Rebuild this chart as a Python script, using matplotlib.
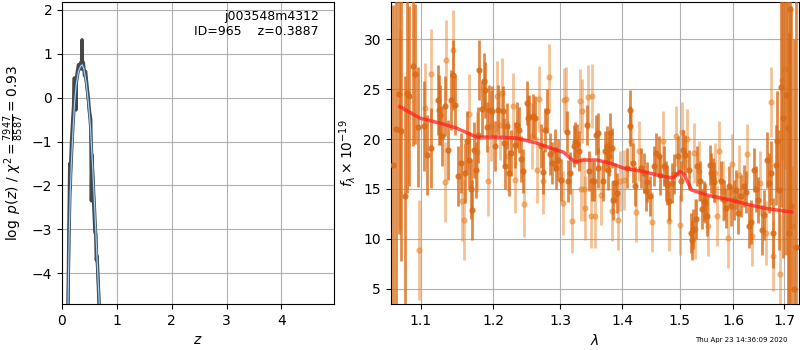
import matplotlib
matplotlib.use('Agg')
import matplotlib.pyplot as plt
from matplotlib.ticker import FixedLocator, FixedFormatter, NullLocator

# p(z) panel
z_smooth = [0.11, 0.13, 0.15, 0.17, 0.20, 0.23, 0.26, 0.30, 0.34, 0.37, 0.40,
            0.44, 0.48, 0.52, 0.56, 0.60, 0.64, 0.68]
logp_smooth = [-4.7, -3.2, -2.2, -1.5, -0.75, -0.1, 0.3, 0.6, 0.72, 0.75, 0.65,
               0.35, -0.1, -0.7, -1.6, -2.6, -3.7, -4.7]
z_noisy = [0.11, 0.125, 0.135, 0.14, 0.145, 0.155, 0.17, 0.19, 0.21, 0.225, 0.23,
           0.245, 0.255, 0.26, 0.28, 0.30, 0.32, 0.34, 0.355, 0.365, 0.375, 0.39,
           0.41, 0.43, 0.45, 0.48, 0.50, 0.525, 0.535, 0.545, 0.56, 0.58, 0.60,
           0.615, 0.625, 0.64, 0.66, 0.675]
logp_noisy = [-4.7, -3.0, -2.1, -1.5, -2.05, -1.6, -1.1, -0.6, -0.2, 0.45, 0.0,
              0.3, -0.28, 0.4, 0.6, 0.75, 0.7, 0.8, 0.65, 1.32, 0.7, 0.8,
              0.5, 0.6, 0.35, 0.0, -0.3, -0.5, -2.35, -1.3, -1.8, -2.5, -3.07,
              -3.1, -3.7, -3.6, -4.2, -4.7]

# spectrum panel, first grism (dark)
dark_wave = [1.064, 1.068, 1.071, 1.074, 1.0794, 1.0815, 1.084, 1.0894, 1.0927, 1.096,
             1.104, 1.108, 1.113, 1.1228, 1.124, 1.126, 1.128, 1.133, 1.136, 1.1408,
             1.143, 1.146, 1.1508, 1.154, 1.160, 1.162, 1.165, 1.168, 1.170, 1.172,
             1.1752, 1.178, 1.180, 1.183, 1.186, 1.188, 1.1911, 1.194, 1.1975, 1.2025,
             1.207, 1.214, 1.216, 1.217, 1.219, 1.222, 1.225, 1.231, 1.235, 1.237,
             1.241, 1.244, 1.249, 1.251, 1.253, 1.259, 1.262, 1.270, 1.273, 1.277,
             1.280, 1.284, 1.288, 1.292, 1.294, 1.297, 1.302, 1.310, 1.313, 1.315,
             1.321, 1.324, 1.326, 1.329, 1.343, 1.346, 1.350, 1.353, 1.357, 1.360,
             1.361, 1.369, 1.372, 1.375, 1.376, 1.378, 1.380, 1.383, 1.385, 1.388,
             1.391, 1.408, 1.413, 1.4135, 1.419, 1.422, 1.433, 1.437, 1.440, 1.443,
             1.447, 1.455, 1.459, 1.464, 1.466, 1.472, 1.475, 1.478, 1.482, 1.487,
             1.490, 1.498, 1.502, 1.506, 1.510, 1.517, 1.521, 1.523, 1.525, 1.530,
             1.532, 1.538, 1.541, 1.544, 1.547, 1.550, 1.555, 1.557, 1.561, 1.563,
             1.577, 1.583, 1.586, 1.592, 1.595, 1.601, 1.605, 1.608, 1.614, 1.621,
             1.624, 1.631, 1.634, 1.640, 1.644, 1.647, 1.656, 1.660, 1.666, 1.669,
             1.674, 1.677, 1.683, 1.686, 1.689, 1.693, 1.699, 1.705, 1.709, 1.711,
             1.713, 1.715, 1.720, 1.724]
dark_flux = [17.4, 21.0, 24.5, 20.8, 14.3, 24.6, 24.3, 27.3, 26.5, 21.2,
             21.3, 18.4, 19.1, 23.9, 22.9, 22.4, 20.3, 23.3, 18.9, 23.9,
             26.4, 23.4, 16.3, 17.6, 16.6, 19.8, 17.9, 15.0, 12.9, 18.9,
             16.9, 20.4, 26.9, 23.0, 25.8, 24.9, 21.2, 22.9, 22.8, 19.3,
             22.9, 22.8, 19.6, 17.3, 21.3, 16.6, 18.6, 19.4, 21.4, 20.9,
             18.0, 16.8, 23.6, 22.1, 22.2, 22.3, 22.1, 19.3, 16.7, 20.9,
             22.8, 18.5, 17.6, 18.9, 17.1, 17.9, 15.9, 20.7, 15.8, 16.6,
             19.3, 19.7, 19.5, 18.8, 21.4, 16.8, 15.8, 15.8, 20.4, 20.6,
             17.1, 15.8, 18.8, 19.3, 16.9, 18.3, 20.6, 19.1, 13.9, 15.6,
             14.6, 17.1, 22.9, 21.3, 17.6, 15.3, 17.1, 16.6, 14.8, 15.7,
             14.3, 17.3, 18.6, 18.3, 16.4, 17.3, 15.8, 15.4, 13.8, 15.6,
             16.5, 18.3, 15.8, 18.9, 18.4, 16.9, 10.6, 9.9, 11.0, 12.0,
             17.3, 15.8, 13.0, 13.8, 13.6, 12.3, 17.4, 16.6, 16.1, 15.7,
             15.8, 13.9, 13.1, 15.3, 13.3, 13.9, 14.9, 12.6, 14.3, 15.3,
             14.7, 11.3, 11.7, 16.9, 15.0, 13.9, 10.9, 12.4, 17.9, 15.6,
             16.6, 10.6, 17.4, 19.8, 14.9, 25.2, 22.1, 24.4, 21.1, 10.6,
             33.0, 13.3, 5.0, 9.2]
dark_err = [16, 18, 14, 13, 12, 10, 9, 8, 7, 6,
            4.5, 4, 4, 3.5, 3.5, 3, 3, 3, 3, 3,
            3.5, 3, 3, 3, 3, 3, 2.8, 3, 3, 2.8,
            2.8, 2.8, 3, 2.8, 2.8, 2.8, 2.5, 2.5, 2.5, 2.5,
            2.5, 2.5, 2.5, 2.3, 2.3, 2.3, 2.3, 2.3, 2.3, 2.3,
            2.3, 2.2, 2.2, 2.2, 2.2, 2.2, 2.2, 2.2, 2.2, 2.2,
            2.2, 2.1, 2.1, 2.1, 2.1, 2.1, 2.1, 2.1, 2.1, 2.1,
            2.1, 2.0, 2.0, 2.0, 2.0, 2.0, 2.0, 2.0, 2.0, 2.0,
            2.0, 2.0, 2.0, 2.0, 2.0, 2.0, 2.0, 2.0, 2.0, 2.0,
            2.0, 2.0, 2.0, 2.0, 2.0, 2.0, 2.0, 2.0, 2.0, 2.0,
            2.0, 2.0, 2.0, 2.0, 2.0, 2.0, 2.0, 2.0, 2.0, 2.0,
            2.0, 2.0, 2.0, 2.0, 2.0, 2.0, 2.0, 2.0, 2.0, 2.0,
            2.0, 2.0, 2.0, 2.0, 2.0, 2.0, 2.0, 2.0, 2.0, 2.0,
            2.0, 2.0, 2.0, 2.0, 2.0, 2.0, 2.0, 2.1, 2.1, 2.1,
            2.1, 2.2, 2.2, 2.2, 2.3, 2.3, 2.5, 2.5, 2.8, 3.0,
            3.2, 3.5, 4, 5, 6, 12, 14, 16, 18, 20,
            22, 20, 25, 25]

# second grism (light)
light_wave = [1.0735, 1.0974, 1.1061, 1.1129, 1.1319, 1.134, 1.143, 1.156, 1.1582, 1.166,
              1.177, 1.192, 1.196, 1.205, 1.210, 1.212, 1.221, 1.229, 1.232, 1.245,
              1.257, 1.264, 1.268, 1.274, 1.282, 1.305, 1.306, 1.309, 1.318, 1.331,
              1.333, 1.335, 1.338, 1.340, 1.344, 1.349, 1.350, 1.355, 1.366, 1.384,
              1.394, 1.396, 1.404, 1.416, 1.424, 1.428, 1.452, 1.471, 1.481, 1.494,
              1.500, 1.505, 1.513, 1.527, 1.528, 1.535, 1.552, 1.565, 1.569, 1.573,
              1.580, 1.589, 1.598, 1.611, 1.627, 1.637, 1.652, 1.663, 1.673, 1.678,
              1.691, 1.695, 1.702, 1.717]
light_flux = [20.9, 8.9, 23.1, 26.5, 15.7, 27.9, 28.9, 13.8, 11.9, 22.5,
              18.7, 15.8, 21.3, 24.3, 21.4, 24.6, 18.3, 23.3, 15.9, 13.5,
              20.3, 16.9, 24.0, 15.8, 26.2, 13.6, 23.9, 24.0, 11.8, 23.8,
              15.0, 22.8, 15.0, 13.1, 24.2, 12.3, 24.3, 12.3, 14.4, 12.8,
              11.9, 15.8, 15.9, 19.8, 12.7, 18.8, 11.7, 19.8, 11.8, 20.3,
              11.4, 20.7, 20.0, 18.6, 11.0, 16.8, 11.3, 16.6, 12.3, 18.8,
              14.8, 10.1, 17.5, 16.4, 18.5, 10.3, 15.6, 10.6, 23.7, 8.3,
              6.5, 25.9, 27.0, 11.3]
light_err = [10, 5, 4.5, 4.5, 4, 4, 4, 4, 4, 4,
             4, 3.5, 3.5, 3.5, 3.5, 3.5, 3.5, 3.3, 3.3, 3.3,
             3.3, 3.3, 3.3, 3.3, 3.3, 3.2, 3.2, 3.2, 3.2, 3.2,
             3.2, 3.2, 3.2, 3.2, 3.2, 3.2, 3.2, 3.2, 3.0, 3.0,
             3.0, 3.0, 3.0, 3.0, 3.0, 3.0, 3.0, 3.0, 3.0, 3.0,
             3.0, 3.0, 3.0, 3.0, 3.0, 3.0, 3.0, 3.0, 3.0, 3.0,
             3.0, 3.0, 3.0, 3.0, 3.0, 3.0, 3.2, 3.2, 3.5, 3.5,
             6, 8, 10, 6]

# best-fit model
model_wave = [1.0726, 1.0988, 1.1254, 1.148, 1.1761, 1.2046, 1.2338, 1.2637, 1.2945,
              1.3048, 1.3232, 1.3364, 1.3581, 1.3800, 1.4020, 1.4360, 1.4709, 1.4886,
              1.5006, 1.5066, 1.5218, 1.5494, 1.5935, 1.6322, 1.6584, 1.6986, 1.7159]
model_flux = [23.25, 22.1, 21.6, 21.1, 20.2, 20.2, 20.1, 19.6, 18.9,
              18.7, 17.7, 17.9, 17.9, 17.6, 17.1, 16.75, 16.25, 16.1,
              16.75, 16.6, 14.9, 14.4, 13.9, 13.4, 13.1, 12.8, 12.7]

fig = plt.figure(figsize=(8, 3.5), dpi=100)
ax1 = fig.add_axes([0.0775, 0.1314, 0.34, 0.8629])
ax2 = fig.add_axes([0.4884, 0.1314, 0.5107, 0.8629])

ax1.plot(z_noisy, logp_noisy, color='0.2', lw=2.4, alpha=0.9)
ax1.plot(z_smooth, logp_smooth, color='#3b5872', lw=2.0)
ax1.plot(z_smooth, logp_smooth, color='#a9d3f5', lw=0.8)
ax1.set_xlim(0, 4.96)
ax1.set_ylim(-4.7, 2.18)
ax1.set_xticks([0, 1, 2, 3, 4])
ax1.set_yticks([-4, -3, -2, -1, 0, 1, 2])
ax1.grid(True)
ax1.set_xlabel(r'$z$')
ax1.set_ylabel(r'$\log\ p(z)$ / $\chi^2=\frac{7947}{8587}=0.93$')
ax1.text(0.945, 0.975, 'j003548m4312\nID=965    z=0.3887', transform=ax1.transAxes,
         ha='right', va='top', fontsize=9)

ax2.errorbar(light_wave, light_flux, yerr=light_err, color='#e8862e', alpha=0.5,
             marker='o', ms=3.5, linestyle='None', elinewidth=2.0, zorder=2)
ax2.errorbar(dark_wave, dark_flux, yerr=dark_err, color='#d96a16', alpha=0.78,
             marker='o', ms=3.5, linestyle='None', elinewidth=2.0, zorder=3)
ax2.plot(model_wave, model_flux, color='#ff2020', lw=2.5, alpha=0.75, zorder=4)
ax2.set_xscale('log')
ax2.set_xlim(1.061, 1.7315)
ax2.set_ylim(3.47, 33.74)
ax2.xaxis.set_major_locator(FixedLocator([1.1, 1.2, 1.3, 1.4, 1.5, 1.6, 1.7]))
ax2.xaxis.set_major_formatter(FixedFormatter(['1.1', '1.2', '1.3', '1.4', '1.5', '1.6', '1.7']))
ax2.xaxis.set_minor_locator(NullLocator())
ax2.set_yticks([5, 10, 15, 20, 25, 30])
ax2.grid(True)
ax2.set_xlabel(r'$\lambda$')
ax2.set_ylabel(r'$f_\lambda\times10^{-19}$')

fig.text(0.984, 0.028, 'Thu Apr 23 14:36:09 2020', ha='right', va='center', fontsize=5)

fig.savefig('out.png', dpi=100)
